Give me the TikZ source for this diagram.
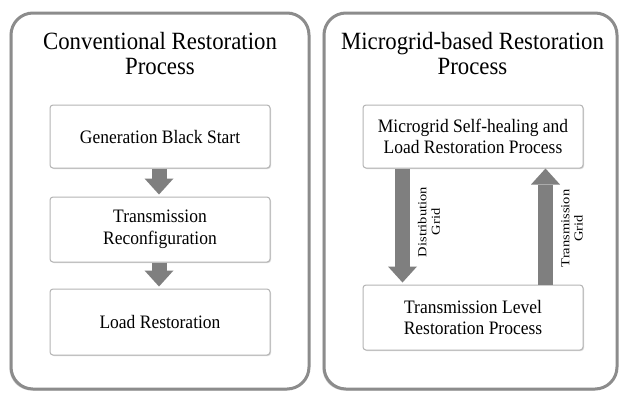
\documentclass[tikz,border=0pt]{standalone}
\usepackage{fontspec}
\setmainfont[FakeStretch=0.92]{Liberation Serif}
\newfontfamily\labfont{Liberation Serif}
\usetikzlibrary{arrows.meta,shadows,positioning}
\definecolor{arrowgray}{HTML}{7F7F7F}
\definecolor{panelgray}{HTML}{8C8C8C}
\definecolor{boxgray}{HTML}{B4B4B4}
\begin{document}
\begin{tikzpicture}[x=1pt,y=-1pt,
  panel/.style={draw=panelgray,line width=3pt,rounded corners=22pt,fill=white,
     drop shadow={shadow xshift=-1.5pt,shadow yshift=-1.5pt,opacity=0.35}},
  title/.style={font=\fontsize{24.8}{25.5}\selectfont,align=center,inner sep=0pt},
  procbox/.style={draw=boxgray,line width=1pt,rounded corners=3pt,fill=white,
     minimum width=220pt,align=center,font=\fontsize{19}{21.5}\selectfont,
     drop shadow={shadow xshift=1pt,shadow yshift=-1pt,opacity=0.3}},
  blockarrow/.style={draw=arrowgray,line width=15pt,
     -{Triangle[width=29pt,length=16pt,line width=0pt]}},
  vlabel/.style={font=\labfont\fontsize{14.5}{16}\selectfont,align=center,
     rotate=90,yscale=0.84,transform shape,inner sep=0pt}]
\useasboundingbox (0,0) rectangle (619,392);
\fill[white] (0,0) rectangle (619,392);
% panels
\path[panel] (11,13) rectangle (309,389);
\path[panel] (324,13) rectangle (617,389);
% titles
\node[title] (t1) at (160,53.5) {Conventional Restoration\\Process};
\node[title] (t2) at (472.5,53.5) {Microgrid-based Restoration\\Process};
% left boxes
\node[procbox,minimum height=63pt] (b1) at (160,136.5) {Generation Black Start};
\node[procbox,minimum height=65pt] (b2) at (160,229.5) {Transmission\\Reconfiguration};
\node[procbox,minimum height=66pt] (b3) at (160,322) {Load Restoration};
\draw[blockarrow] ([xshift=-1pt]b1.south) -- ([xshift=-1pt,yshift=2pt]b2.north);
\draw[blockarrow] ([xshift=-1pt]b2.south) -- ([xshift=-1pt,yshift=2pt]b3.north);
% right boxes
\node[procbox,minimum height=63pt] (m1) at (473,136.5) {Microgrid Self-healing and\\Load Restoration Process};
\node[procbox,minimum height=65pt] (m2) at (473,317.5) {Transmission Level\\Restoration Process};
\draw[blockarrow] ([xshift=-70.5pt]m1.south) -- ([xshift=-70.5pt,yshift=2pt]m2.north);
\draw[blockarrow] ([xshift=72.5pt]m2.north) -- ([xshift=72.5pt]m1.south);
\node[vlabel] (l1) at (429,222) {Distribution\\Grid};
\node[vlabel] (l2) at (572,228.5) {Transmission\\Grid};
\end{tikzpicture}
\end{document}
